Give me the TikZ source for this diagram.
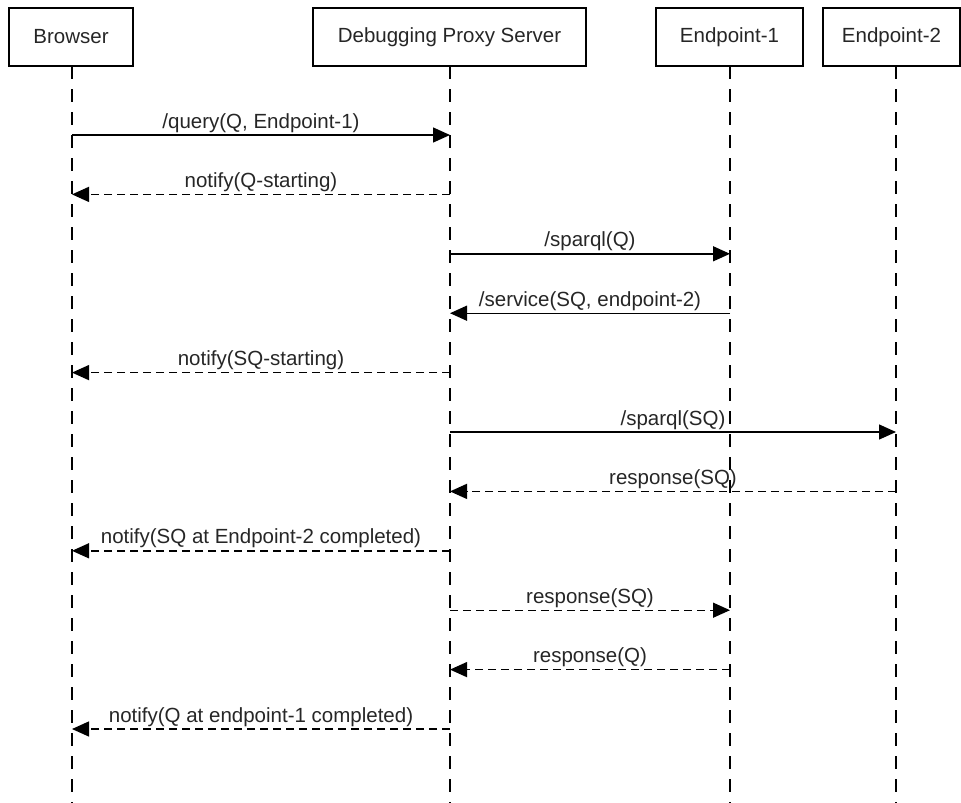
\documentclass[tikz,border=0pt]{standalone}
\usepackage{fontspec}
\setmainfont{Liberation Sans}
\usetikzlibrary{arrows.meta}

\begin{document}
\begin{tikzpicture}[x=1pt,y=-1pt,
  every node/.style={font=\fontsize{20.5}{24}\selectfont,text=black!85},
  actor/.style={draw,line width=2.6pt,minimum height=58pt,inner sep=0pt},
  lifeline/.style={line width=1.5pt,dash pattern=on 13pt off 10pt},
  call/.style={line width=1.4pt,-{Triangle[length=17pt,width=15pt]}},
  reply/.style={call,dash pattern=on 8pt off 5pt},
  lbl/.style={anchor=base,inner sep=0pt,yshift=7pt}]
  \useasboundingbox (0,0) rectangle (961,803);

  \node[actor,minimum width=124pt] (browser) at (71,37) {Browser};
  \node[actor,minimum width=273pt] (proxy) at (449.5,37) {Debugging Proxy Server};
  \node[actor,minimum width=147pt] (ep1) at (729.5,37) {Endpoint-1};
  \node[actor,minimum width=137pt] (ep2) at (891.5,37) {Endpoint-2};

  % lifelines and the points where messages meet them
  \foreach \n/\x in {B/72,P/450,E/730,F/896} {
    \coordinate (\n top) at (\x,66);
    \coordinate (\n bot) at (\x,803);
    \draw[lifeline] (\n top) -- (\n bot);
    \foreach \i in {1,...,11} {\coordinate (\n\i) at (\x,{75.6+59.4*\i});}
  }

  \foreach \i/\src/\dst/\sty/\txt in {
    1/B/P/call/{/query(Q, Endpoint-1)},
    2/P/B/reply/{notify(Q-starting)},
    3/P/E/call/{/sparql(Q)},
    4/E/P/call/{/service(SQ, endpoint-2)},
    5/P/B/reply/{notify(SQ-starting)},
    6/P/F/call/{/sparql(SQ)},
    7/F/P/reply/{response(SQ)},
    8/P/B/reply/{notify(SQ at Endpoint-2 completed)},
    9/P/E/reply/{response(SQ)},
    10/E/P/reply/{response(Q)},
    11/P/B/reply/{notify(Q at endpoint-1 completed)}} {
    \draw[\sty] (\src\i) -- node[lbl] {\txt} (\dst\i);
  }
\end{tikzpicture}
\end{document}
